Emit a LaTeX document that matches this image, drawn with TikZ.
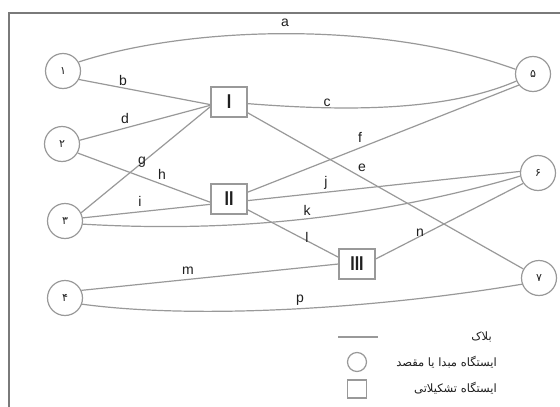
\documentclass[tikz,border=0pt]{standalone}
\usepackage{fontspec}
\setmainfont{Liberation Sans}
\newfontfamily\fafont[Script=Arabic]{DejaVu Sans}
\TeXXeTstate=1
\definecolor{linegray}{gray}{0.6}
\definecolor{framegray}{gray}{0.48}
\definecolor{inkgray}{gray}{0.12}
\tikzset{
  station/.style={circle, draw=linegray, line width=1.2pt, minimum size=35pt,
    inner sep=0pt, text=inkgray, font=\fafont\fontsize{11}{11}\selectfont},
  yard/.style={rectangle, draw=linegray, line width=1.2pt, minimum width=36pt,
    minimum height=30pt, inner sep=0pt, text=inkgray,
    font=\bfseries\fontsize{20}{20}\selectfont},
  blockline/.style={draw=linegray, line width=1.2pt},
  lbl/.style={inner sep=0pt, text=inkgray, font=\fontsize{14}{14}\selectfont},
  legendtext/.style={anchor=east, inner sep=0pt, text=inkgray,
    font=\fafont\fontsize{11.5}{11.5}\selectfont}
}
\newcommand{\narrow}[1]{\scalebox{0.8}[1]{#1}}
\begin{document}
\begin{tikzpicture}[x=1pt, y=-1pt]
\useasboundingbox (0,0) rectangle (560,407);
\fill[white] (0,0) rectangle (560,407);
% outer frame
\draw[framegray, line width=2pt] (9,420) -- (9,13) -- (570,13);

% origin / destination stations
\node[station] (c1) at (63,71)  {۱};
\node[station] (c2) at (62,144) {۲};
\node[station] (c3) at (65,221) {۳};
\node[station] (c4) at (65,298) {۴};
\node[station] (c5) at (533,74) {۵};
\node[station] (c6) at (538,173) {۶};
\node[station] (c7) at (539,278) {۷};

% marshalling yards
\node[yard] (I)   at (229,102) {\narrow{I}};
\node[yard] (II)  at (229,199) {\narrow{II}};
\node[yard] (III) at (357,264) {\narrow{III}};

% blocks
\draw[blockline] (c1.30) .. controls (190,26) and (380,20) .. (c5.165);
\draw[blockline] (c1.-28) -- (I.-172);
\draw[blockline] (I.-5) .. controls (330,110) and (440,114) .. (c5.-157);
\draw[blockline] (c2.12) -- (I.-170);
\draw[blockline] (I.-30) -- (c7.150);
\draw[blockline] (II.20) -- (c5.-142);
\draw[blockline] (c3.27) -- (I.-166);
\draw[blockline] (c2.-30) -- (II.-170);
\draw[blockline] (c3.10) -- (II.-164);
\draw[blockline] (II.-5) -- (c6.175);
\draw[blockline] (c3.-10) .. controls (220,232) and (360,222) .. (c6.-170);
\draw[blockline] (II.-30) -- (III.160);
\draw[blockline] (c4.25) -- (III.180);
\draw[blockline] (III.15) -- (c6.-145);
\draw[blockline] (c4.-20) .. controls (200,320) and (380,308) .. (c7.-160);

% block labels
\node[lbl] (la) at (285,23)  {a};
\node[lbl] (lb) at (123,80)  {b};
\node[lbl] (lc) at (327,103) {c};
\node[lbl] (ld) at (125,118) {d};
\node[lbl] (le) at (362,168) {e};
\node[lbl] (lf) at (360,137) {f};
\node[lbl] (lg) at (142,162) {g};
\node[lbl] (lh) at (162,174) {h};
\node[lbl] (li) at (140,201) {i};
\node[lbl] (lj) at (326,183) {j};
\node[lbl] (lk) at (307,210) {k};
\node[lbl] (ll) at (307,237) {l};
\node[lbl] (lm) at (188,271) {m};
\node[lbl] (ln) at (420,233) {n};
\node[lbl] (lp) at (300,300) {p};

% legend
\coordinate (kA) at (338,337);
\coordinate (kB) at (378,337);
\draw[blockline] (kA) -- (kB);
\node[circle, draw=linegray, line width=1.2pt, minimum size=19pt, inner sep=0pt] (kc) at (357,362) {};
\node[rectangle, draw=linegray, line width=1.2pt, minimum width=19pt, minimum height=18pt, inner sep=0pt] (ks) at (357,389) {};
\node[legendtext] (t1) at (492,337) {\beginR بلاک\endR};
\node[legendtext] (t2) at (497,362) {\beginR ایستگاه مبدا یا مقصد\endR};
\node[legendtext] (t3) at (497,388) {\beginR ایستگاه تشکیلاتی\endR};
\end{tikzpicture}
\end{document}
